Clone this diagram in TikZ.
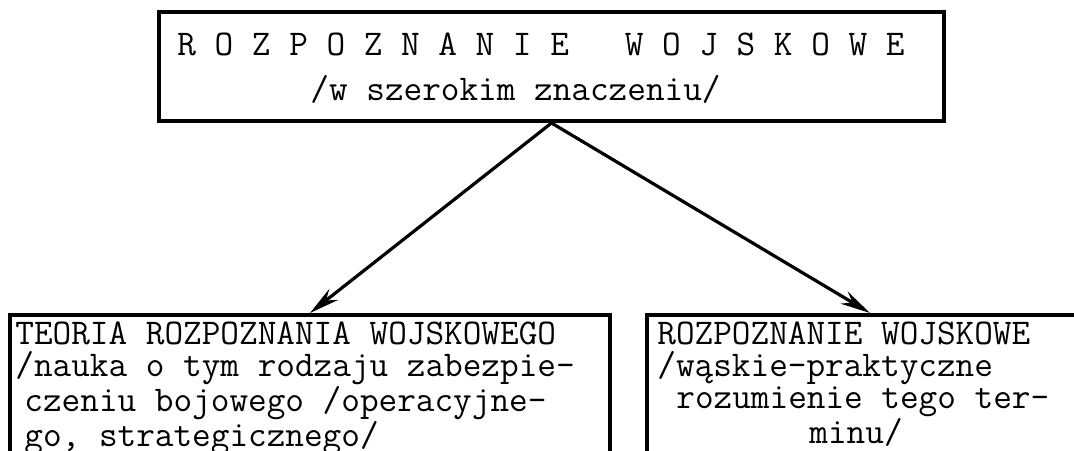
\documentclass[tikz,border=0pt]{standalone}
\usepackage{fontspec}
\usetikzlibrary{arrows.meta}
\tikzstyle{ramka} = [draw=black, line width=2pt, rectangle, inner sep=0pt]
\tikzstyle{pismo} = [font={\ttfamily\fontsize{18.1}{16}\selectfont}, align=left, inner sep=0pt, anchor=north west]
\tikzstyle{naglowek} = [pismo, font={\ttfamily\fontsize{18.1}{22.5}\selectfont}]
\tikzstyle{strzalka} = [-{Stealth[length=15pt,width=7pt]}, line width=1.6pt]

\begin{document}
\begin{tikzpicture}[x=0.5pt,y=-0.5pt]
  \useasboundingbox (0,0) rectangle (1074,450);
  \clip (0,0) rectangle (1074,450);
  \node[ramka,minimum width=392.5pt,minimum height=54.5pt](glowne) at (551.5,66.5){};
  \node[ramka,minimum width=300pt,minimum height=77.5pt](teoria) at (310,392.5){};
  \node[ramka,minimum width=223pt,minimum height=77.5pt](waskie) at (870,392.5){};
  \node[naglowek](glowne-t) at (177,32){R O Z P O Z N A N I E\ \ \ W O J S K O W E\\
    \hspace*{3.675em}/w szerokim znaczeniu/};
  \node[pismo](teoria-t) at (15,321){TEORIA ROZPOZNANIA WOJSKOWEGO\\
    /nauka o tym rodzaju zabezpie-\\
    \hspace*{0.25em}czeniu bojowego /operacyjne-\\
    \hspace*{0.25em}go, strategicznego/};
  \node[pismo](waskie-t) at (657,321){ROZPOZNANIE WOJSKOWE\\
    /wąskie-praktyczne\\
    \hspace*{0.525em}rozumienie tego ter-\\
    \hspace*{4.2em}minu/};
  \draw[strzalka](glowne.south)--(teoria.north);
  \draw[strzalka](glowne.south)--(waskie.north);
\end{tikzpicture}
\end{document}
